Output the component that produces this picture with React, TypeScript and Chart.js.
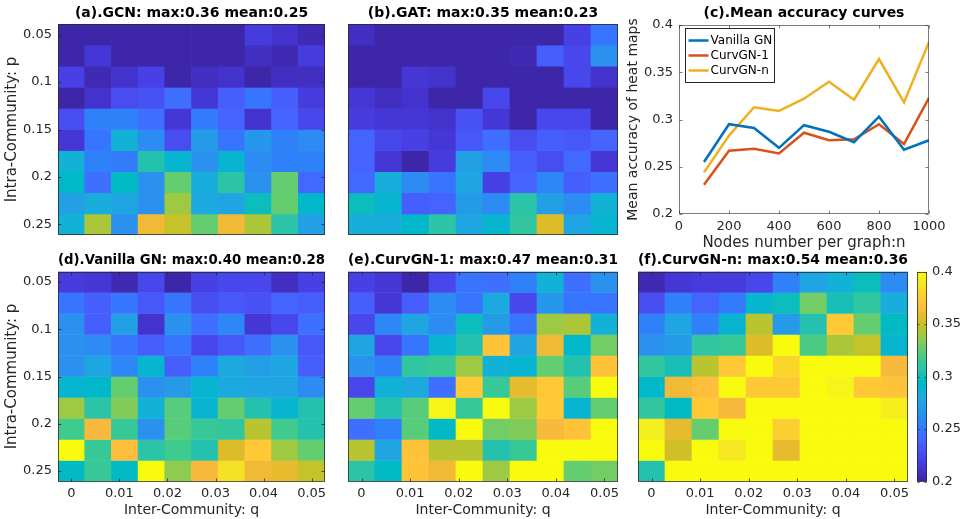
import React, { useEffect, useRef } from "react";
import { Chart, registerables } from "chart.js";

Chart.register(...registerables);

// ------------------------------------------------------------------ data
const Q_VALUES = [0, 0.005556, 0.011111, 0.016667, 0.022222, 0.027778, 0.033333, 0.038889, 0.044444, 0.05];
const P_VALUES = [0.05, 0.072222, 0.094444, 0.116667, 0.138889, 0.161111, 0.183333, 0.205556, 0.227778, 0.25];
const Q_TICKS = [0, 0.01, 0.02, 0.03, 0.04, 0.05];
const Q_TICK_LABELS = ["0", "0.01", "0.02", "0.03", "0.04", "0.05"];
const P_TICKS = [0.05, 0.1, 0.15, 0.2, 0.25];
const P_TICK_LABELS = ["0.05", "0.1", "0.15", "0.2", "0.25"];
const COLOR_LIMITS = [0.2, 0.4];
const CB_TICKS = [0.2, 0.25, 0.3, 0.35, 0.4];
const CB_TICK_LABELS = ["0.2", "0.25", "0.3", "0.35", "0.4"];

// rows: p (0.05 -> 0.25), columns: q (0 -> 0.05)
const GCN_ACC = [
  [0.203, 0.203, 0.203, 0.203, 0.203, 0.203, 0.203, 0.218, 0.210, 0.205],
  [0.203, 0.215, 0.203, 0.203, 0.203, 0.203, 0.203, 0.207, 0.204, 0.218],
  [0.220, 0.205, 0.210, 0.220, 0.203, 0.207, 0.210, 0.203, 0.208, 0.207],
  [0.203, 0.210, 0.228, 0.230, 0.245, 0.215, 0.235, 0.250, 0.235, 0.218],
  [0.228, 0.255, 0.255, 0.245, 0.215, 0.253, 0.240, 0.212, 0.238, 0.225],
  [0.213, 0.250, 0.285, 0.262, 0.228, 0.270, 0.250, 0.268, 0.255, 0.260],
  [0.287, 0.255, 0.253, 0.305, 0.288, 0.265, 0.290, 0.262, 0.255, 0.255],
  [0.292, 0.245, 0.295, 0.264, 0.325, 0.283, 0.308, 0.265, 0.325, 0.243],
  [0.272, 0.283, 0.277, 0.265, 0.340, 0.279, 0.276, 0.300, 0.325, 0.292],
  [0.285, 0.343, 0.265, 0.362, 0.350, 0.325, 0.362, 0.342, 0.308, 0.272],
];
const GAT_ACC = [
  [0.207, 0.203, 0.203, 0.203, 0.203, 0.203, 0.203, 0.203, 0.220, 0.250],
  [0.203, 0.203, 0.203, 0.203, 0.203, 0.203, 0.205, 0.235, 0.225, 0.265],
  [0.203, 0.203, 0.215, 0.210, 0.203, 0.203, 0.203, 0.203, 0.222, 0.210],
  [0.215, 0.207, 0.210, 0.203, 0.203, 0.222, 0.203, 0.203, 0.203, 0.203],
  [0.218, 0.213, 0.213, 0.212, 0.230, 0.215, 0.203, 0.225, 0.222, 0.203],
  [0.238, 0.225, 0.220, 0.215, 0.232, 0.245, 0.228, 0.235, 0.232, 0.240],
  [0.238, 0.215, 0.203, 0.218, 0.272, 0.262, 0.235, 0.228, 0.242, 0.213],
  [0.242, 0.282, 0.260, 0.248, 0.275, 0.220, 0.240, 0.258, 0.235, 0.245],
  [0.298, 0.290, 0.235, 0.240, 0.270, 0.260, 0.308, 0.272, 0.260, 0.285],
  [0.282, 0.282, 0.293, 0.308, 0.275, 0.288, 0.312, 0.355, 0.278, 0.290],
];
const VANILLA_ACC = [
  [0.218, 0.215, 0.205, 0.222, 0.202, 0.220, 0.225, 0.223, 0.208, 0.220],
  [0.248, 0.235, 0.248, 0.233, 0.250, 0.228, 0.232, 0.230, 0.240, 0.235],
  [0.265, 0.237, 0.272, 0.210, 0.263, 0.245, 0.258, 0.215, 0.225, 0.245],
  [0.265, 0.260, 0.250, 0.237, 0.248, 0.225, 0.232, 0.245, 0.265, 0.233],
  [0.265, 0.275, 0.258, 0.290, 0.235, 0.255, 0.280, 0.272, 0.275, 0.235],
  [0.290, 0.292, 0.325, 0.265, 0.270, 0.290, 0.280, 0.278, 0.275, 0.260],
  [0.338, 0.308, 0.332, 0.285, 0.322, 0.290, 0.325, 0.305, 0.290, 0.305],
  [0.318, 0.365, 0.315, 0.265, 0.322, 0.315, 0.310, 0.345, 0.318, 0.305],
  [0.400, 0.315, 0.368, 0.308, 0.318, 0.305, 0.355, 0.375, 0.340, 0.325],
  [0.295, 0.315, 0.295, 0.400, 0.335, 0.365, 0.385, 0.360, 0.358, 0.350],
];
const CURV1_ACC = [
  [0.220, 0.215, 0.203, 0.222, 0.250, 0.245, 0.255, 0.285, 0.245, 0.265],
  [0.235, 0.215, 0.235, 0.260, 0.248, 0.280, 0.222, 0.268, 0.248, 0.250],
  [0.222, 0.258, 0.275, 0.260, 0.300, 0.270, 0.250, 0.338, 0.342, 0.285],
  [0.275, 0.225, 0.248, 0.290, 0.305, 0.370, 0.278, 0.360, 0.293, 0.330],
  [0.265, 0.255, 0.312, 0.315, 0.338, 0.285, 0.290, 0.325, 0.305, 0.370],
  [0.225, 0.285, 0.280, 0.245, 0.372, 0.315, 0.358, 0.372, 0.322, 0.400],
  [0.325, 0.305, 0.322, 0.395, 0.315, 0.420, 0.338, 0.372, 0.290, 0.325],
  [0.245, 0.255, 0.322, 0.295, 0.420, 0.330, 0.332, 0.365, 0.370, 0.420],
  [0.345, 0.278, 0.370, 0.345, 0.345, 0.305, 0.315, 0.450, 0.440, 0.470],
  [0.308, 0.295, 0.370, 0.360, 0.420, 0.340, 0.430, 0.410, 0.325, 0.330],
];
const CURVN_ACC = [
  [0.205, 0.215, 0.218, 0.218, 0.223, 0.255, 0.275, 0.285, 0.300, 0.260],
  [0.228, 0.255, 0.238, 0.252, 0.290, 0.300, 0.330, 0.302, 0.312, 0.282],
  [0.255, 0.275, 0.255, 0.290, 0.345, 0.270, 0.305, 0.375, 0.325, 0.295],
  [0.265, 0.270, 0.310, 0.315, 0.355, 0.420, 0.320, 0.342, 0.348, 0.290],
  [0.310, 0.302, 0.345, 0.375, 0.420, 0.380, 0.430, 0.430, 0.440, 0.365],
  [0.292, 0.362, 0.368, 0.430, 0.372, 0.375, 0.440, 0.395, 0.372, 0.370],
  [0.310, 0.295, 0.375, 0.365, 0.440, 0.450, 0.460, 0.450, 0.440, 0.392],
  [0.392, 0.358, 0.328, 0.440, 0.460, 0.378, 0.470, 0.460, 0.490, 0.450],
  [0.420, 0.352, 0.450, 0.388, 0.460, 0.358, 0.480, 0.540, 0.500, 0.470],
  [0.305, 0.450, 0.470, 0.480, 0.490, 0.500, 0.480, 0.500, 0.470, 0.490],
];

const NODES = [100, 200, 300, 400, 500, 600, 700, 800, 900, 1000];
const N_TICKS = [0, 200, 400, 600, 800, 1000];
const N_TICK_LABELS = ["0", "200", "400", "600", "800", "1000"];
const ACC_TICKS = [0.2, 0.25, 0.3, 0.35, 0.4];
const ACC_TICK_LABELS = ["0.2", "0.25", "0.3", "0.35", "0.4"];
const VANILLA_MEAN = [0.255, 0.295, 0.291, 0.270, 0.294, 0.287, 0.276, 0.303, 0.268, 0.278];
const CURV1_MEAN = [0.231, 0.267, 0.269, 0.264, 0.286, 0.278, 0.279, 0.295, 0.274, 0.323];
const CURVN_MEAN = [0.244, 0.283, 0.313, 0.309, 0.322, 0.340, 0.321, 0.364, 0.318, 0.382];

// ------------------------------------------------------------------ style
const FONT = "DejaVu Sans";
const TXT = "#262626";
Chart.defaults.font.family = FONT;
Chart.defaults.color = TXT;

const PARULA = [
  [0.2422, 0.1504, 0.6603], [0.2504, 0.165, 0.7076], [0.2578, 0.1818, 0.7511], [0.2647, 0.1978, 0.7952],
  [0.2706, 0.2147, 0.8364], [0.2751, 0.2342, 0.871], [0.2783, 0.2559, 0.8991], [0.2803, 0.2782, 0.9221],
  [0.2813, 0.3006, 0.9414], [0.281, 0.3228, 0.9579], [0.2795, 0.3447, 0.9717], [0.276, 0.3667, 0.9829],
  [0.2699, 0.3892, 0.9906], [0.2602, 0.4123, 0.9952], [0.244, 0.4358, 0.9988], [0.2206, 0.4603, 0.9973],
  [0.1963, 0.4847, 0.9892], [0.1834, 0.5074, 0.9798], [0.1786, 0.5289, 0.9682], [0.1764, 0.5499, 0.952],
  [0.1687, 0.5703, 0.9359], [0.154, 0.5902, 0.9218], [0.146, 0.6091, 0.9079], [0.138, 0.6276, 0.8973],
  [0.1248, 0.6459, 0.8883], [0.1113, 0.6635, 0.8763], [0.0952, 0.6798, 0.8598], [0.0689, 0.6948, 0.8394],
  [0.0297, 0.7082, 0.8163], [0.0036, 0.7203, 0.7917], [0.0067, 0.7312, 0.766], [0.0433, 0.7411, 0.7394],
  [0.0964, 0.75, 0.712], [0.1408, 0.7584, 0.6842], [0.1717, 0.767, 0.6554], [0.1938, 0.7758, 0.6251],
  [0.2161, 0.7843, 0.5923], [0.247, 0.7918, 0.5567], [0.2906, 0.7973, 0.5188], [0.3406, 0.8008, 0.4789],
  [0.3909, 0.8029, 0.4354], [0.4456, 0.8024, 0.3909], [0.5044, 0.7993, 0.348], [0.5616, 0.7942, 0.3045],
  [0.6174, 0.7876, 0.2612], [0.672, 0.7793, 0.2227], [0.7242, 0.7698, 0.191], [0.7738, 0.7598, 0.1646],
  [0.8203, 0.7498, 0.1535], [0.8634, 0.7406, 0.1596], [0.9035, 0.733, 0.1774], [0.9393, 0.7288, 0.21],
  [0.9728, 0.7298, 0.2394], [0.9956, 0.7434, 0.2371], [0.997, 0.7659, 0.2199], [0.9952, 0.7893, 0.2028],
  [0.9892, 0.8136, 0.1885], [0.9814, 0.838, 0.1752], [0.9733, 0.8626, 0.1615], [0.9657, 0.8866, 0.1463],
  [0.9608, 0.9112, 0.1313], [0.9601, 0.9361, 0.1167], [0.9626, 0.9608, 0.0999], [0.9763, 0.9831, 0.0538],
];
const PARULA_CSS = PARULA.map(
  ([r, g, b]) => `rgb(${Math.round(r * 255)},${Math.round(g * 255)},${Math.round(b * 255)})`
);

function cellColor(v: number): string {
  const t = (v - COLOR_LIMITS[0]) / (COLOR_LIMITS[1] - COLOR_LIMITS[0]);
  const i = Math.max(0, Math.min(PARULA_CSS.length - 1, Math.floor(t * PARULA_CSS.length)));
  return PARULA_CSS[i];
}

const fixedTicks = (values: number[]) => (scale: any) => {
  scale.ticks = values.map((v) => ({ value: v }));
};

// MATLAB-like axes box with inward tick marks
const boxPlugin = {
  id: "mbox",
  afterDatasetsDraw(chart: any, _args: any, o: any) {
    if (!o || !o.show) return;
    const { ctx, chartArea: a } = chart;
    const L = Math.round(a.left) + 0.5;
    const R = Math.round(a.right) - 0.5;
    const T = Math.round(a.top) + 0.5;
    const B = Math.round(a.bottom) - 0.5;
    ctx.save();
    ctx.strokeStyle = o.color;
    ctx.lineWidth = 1;
    ctx.strokeRect(L, T, R - L, B - T);
    const len = o.tickLen;
    ctx.beginPath();
    if (o.xTicks) {
      const s = chart.scales[o.xId || "x"];
      for (const t of s.ticks) {
        const px = Math.round(s.getPixelForValue(t.value)) + 0.5;
        ctx.moveTo(px, B);
        ctx.lineTo(px, B - len);
        ctx.moveTo(px, T);
        ctx.lineTo(px, T + len);
      }
    }
    if (o.yTicks) {
      const s = chart.scales[o.yId || "y"];
      for (const t of s.ticks) {
        const py = Math.round(s.getPixelForValue(t.value)) + 0.5;
        ctx.moveTo(L, py);
        ctx.lineTo(L + len, py);
        ctx.moveTo(R, py);
        ctx.lineTo(R - len, py);
      }
    }
    ctx.stroke();
    ctx.restore();
  },
};

// legend drawn inside the plot area with a box, MATLAB style
const boxLegendPlugin = {
  id: "boxLegend",
  afterDraw(chart: any, _args: any, o: any) {
    if (!o || !o.show) return;
    const { ctx, chartArea: a } = chart;
    const items = chart.data.datasets;
    ctx.save();
    ctx.font = `${o.fontSize}px "${FONT}"`;
    const textW = Math.max(...items.map((d: any) => ctx.measureText(d.label).width));
    const x0 = Math.round(a.left + o.dx) + 0.5;
    const y0 = Math.round(a.top + o.dy) + 0.5;
    const w = Math.round(o.padL + o.lineLen + o.gap + textW + o.padR);
    const h = items.length * o.rowH + o.padV * 2;
    ctx.fillStyle = "#fff";
    ctx.fillRect(x0, y0, w, h);
    ctx.strokeStyle = TXT;
    ctx.lineWidth = 1;
    ctx.strokeRect(x0, y0, w, h);
    items.forEach((d: any, i: number) => {
      const cy = y0 + o.padV + o.rowH * (i + 0.5);
      ctx.strokeStyle = d.borderColor;
      ctx.lineWidth = d.borderWidth;
      ctx.beginPath();
      ctx.moveTo(x0 + o.padL, cy);
      ctx.lineTo(x0 + o.padL + o.lineLen, cy);
      ctx.stroke();
      ctx.fillStyle = "#000";
      ctx.textBaseline = "middle";
      ctx.textAlign = "left";
      ctx.fillText(d.label, x0 + o.padL + o.lineLen + o.gap, cy + 0.5);
    });
    ctx.restore();
  },
};

type Rect = { l: number; t: number; w: number; h: number };
type Area = { l: number; r: number; t: number; b: number };

const TITLE_SIZE = 14;
const TITLE_LH = TITLE_SIZE * 1.2;

function titleOpts(text: string, canvas: Rect, area: Area, titleY: number) {
  const padTop = titleY - canvas.t - TITLE_LH / 2;
  return {
    padTop,
    title: {
      display: true,
      text,
      fullSize: false,
      color: "#000",
      font: { family: FONT, size: TITLE_SIZE, weight: "bold", lineHeight: 1.2 },
      padding: { top: 0, bottom: area.t - canvas.t - padTop - TITLE_LH },
    },
  };
}

type HeatSpec = {
  title: string;
  values: number[][];
  canvas: Rect;
  area: Area;
  titleY: number;
  yLabels: boolean;
  yTitle?: string;
  xLabels: boolean;
  xTitle?: string;
};

function heatmapConfig(s: HeatSpec): any {
  const dq = Q_VALUES[1] - Q_VALUES[0];
  const dp = P_VALUES[1] - P_VALUES[0];
  const showY = s.yLabels || !!s.yTitle;
  const showX = s.xLabels || !!s.xTitle;
  const yW = showY ? s.area.l - s.canvas.l : 0;
  const xH = showX ? s.canvas.t + s.canvas.h - s.area.b : 0;
  const t = titleOpts(s.title, s.canvas, s.area, s.titleY);
  return {
    type: "bar",
    data: {
      datasets: s.values.map((row, r) => ({
        data: row.map((_v, c) => ({ x: Q_VALUES[c], y: [P_VALUES[r] - dp / 2, P_VALUES[r] + dp / 2] })),
        backgroundColor: row.map(cellColor),
        borderWidth: 0,
        grouped: false,
        barPercentage: 1,
        categoryPercentage: 1,
      })),
    },
    options: {
      responsive: false,
      animation: false,
      events: [],
      layout: {
        padding: {
          left: showY ? 0 : s.area.l - s.canvas.l,
          right: s.canvas.l + s.canvas.w - s.area.r,
          top: t.padTop,
          bottom: showX ? 0 : s.canvas.t + s.canvas.h - s.area.b,
        },
      },
      plugins: {
        legend: { display: false },
        tooltip: { enabled: false },
        title: t.title,
        mbox: { show: true, color: "rgba(38,38,38,0.75)", tickLen: 3, xTicks: s.xLabels, yTicks: s.yLabels },
      },
      scales: {
        x: {
          type: "linear",
          display: showX,
          min: Q_VALUES[0] - dq / 2,
          max: Q_VALUES[Q_VALUES.length - 1] + dq / 2,
          offset: false,
          grid: { display: false, drawTicks: false },
          border: { display: false },
          afterBuildTicks: fixedTicks(Q_TICKS),
          afterFit: (sc: any) => {
            sc.height = xH;
          },
          ticks: {
            display: s.xLabels,
            autoSkip: false,
            maxRotation: 0,
            padding: 4,
            color: TXT,
            font: { family: FONT, size: 13 },
            callback: (_v: any, i: number) => Q_TICK_LABELS[i],
          },
          title: {
            display: !!s.xTitle,
            text: s.xTitle || "",
            color: TXT,
            font: { family: FONT, size: 14 },
            padding: { top: 0, bottom: 0 },
          },
        },
        y: {
          type: "linear",
          display: showY,
          reverse: true,
          min: P_VALUES[0] - dp / 2,
          max: P_VALUES[P_VALUES.length - 1] + dp / 2,
          grid: { display: false, drawTicks: false },
          border: { display: false },
          afterBuildTicks: fixedTicks(P_TICKS),
          afterFit: (sc: any) => {
            sc.width = yW;
          },
          ticks: {
            display: s.yLabels,
            autoSkip: false,
            padding: 6,
            color: TXT,
            font: { family: FONT, size: 13 },
            callback: (_v: any, i: number) => P_TICK_LABELS[i],
          },
          title: {
            display: !!s.yTitle,
            text: s.yTitle || "",
            color: TXT,
            font: { family: FONT, size: 15 },
            padding: { top: 3, bottom: 0 },
          },
        },
      },
    },
    plugins: [boxPlugin],
  };
}

function lineConfig(canvas: Rect, area: Area): any {
  const t = titleOpts("(c).Mean accuracy curves", canvas, area, 13.5);
  const series = [
    { label: "Vanilla GN", values: VANILLA_MEAN, color: "rgb(0,114,189)" },
    { label: "CurvGN-1", values: CURV1_MEAN, color: "rgb(217,83,25)" },
    { label: "CurvGN-n", values: CURVN_MEAN, color: "rgb(237,177,32)" },
  ];
  return {
    type: "line",
    data: {
      datasets: series.map((s) => ({
        label: s.label,
        data: NODES.map((n, i) => ({ x: n, y: s.values[i] })),
        borderColor: s.color,
        backgroundColor: s.color,
        borderWidth: 2.5,
        pointRadius: 0,
        tension: 0,
        fill: false,
      })),
    },
    options: {
      responsive: false,
      animation: false,
      events: [],
      layout: { padding: { left: 0, right: canvas.l + canvas.w - area.r, top: t.padTop, bottom: 0 } },
      plugins: {
        legend: { display: false },
        tooltip: { enabled: false },
        title: t.title,
        mbox: { show: true, color: "rgba(38,38,38,0.6)", tickLen: 3, xTicks: true, yTicks: true },
        boxLegend: { show: true, dx: 6, dy: 2.5, fontSize: 12, rowH: 15, padV: 4.5, padL: 3, lineLen: 20, gap: 2, padR: 2 },
      },
      scales: {
        x: {
          type: "linear",
          min: 0,
          max: 1000,
          grid: { display: false, drawTicks: false },
          border: { display: false },
          afterBuildTicks: fixedTicks(N_TICKS),
          afterFit: (sc: any) => {
            sc.height = canvas.t + canvas.h - area.b;
          },
          ticks: {
            autoSkip: false,
            maxRotation: 0,
            padding: 5,
            color: TXT,
            font: { family: FONT, size: 13 },
            callback: (_v: any, i: number) => N_TICK_LABELS[i],
          },
          title: {
            display: true,
            text: "Nodes number per graph:n",
            color: TXT,
            font: { family: FONT, size: 15 },
            padding: { top: 0, bottom: 0.5 },
          },
        },
        y: {
          type: "linear",
          min: 0.2,
          max: 0.4,
          grid: { display: false, drawTicks: false },
          border: { display: false },
          afterBuildTicks: fixedTicks(ACC_TICKS),
          afterFit: (sc: any) => {
            sc.width = area.l - canvas.l;
          },
          ticks: {
            autoSkip: false,
            padding: 6,
            color: TXT,
            font: { family: FONT, size: 13 },
            callback: (_v: any, i: number) => ACC_TICK_LABELS[i],
          },
          title: {
            display: true,
            text: "Mean accuracy of heat maps",
            color: TXT,
            font: { family: FONT, size: 14 },
            padding: { top: 0, bottom: 0 },
          },
        },
      },
    },
    plugins: [boxPlugin, boxLegendPlugin],
  };
}

function colorbarConfig(canvas: Rect, area: Area): any {
  return {
    type: "bar",
    data: {
      labels: [""],
      datasets: [
        {
          data: [[COLOR_LIMITS[0], COLOR_LIMITS[1]]],
          backgroundColor: (c: any) => {
            const a = c.chart.chartArea;
            if (!a) return PARULA_CSS[0];
            const g = c.chart.ctx.createLinearGradient(0, a.bottom, 0, a.top);
            const n = PARULA_CSS.length;
            PARULA_CSS.forEach((col, i) => {
              g.addColorStop(i / n, col);
              g.addColorStop((i + 1) / n, col);
            });
            return g;
          },
          borderWidth: 0,
          barPercentage: 1,
          categoryPercentage: 1,
        },
      ],
    },
    options: {
      responsive: false,
      animation: false,
      events: [],
      layout: {
        padding: {
          left: area.l - canvas.l,
          right: 0,
          top: area.t - canvas.t,
          bottom: canvas.t + canvas.h - area.b,
        },
      },
      plugins: {
        legend: { display: false },
        tooltip: { enabled: false },
        mbox: { show: true, color: "rgba(38,38,38,0.75)", tickLen: 2, xTicks: false, yTicks: true },
      },
      scales: {
        x: { display: false },
        y: {
          position: "right",
          min: COLOR_LIMITS[0],
          max: COLOR_LIMITS[1],
          grid: { display: false, drawTicks: false },
          border: { display: false },
          afterBuildTicks: fixedTicks(CB_TICKS),
          afterFit: (sc: any) => {
            sc.width = canvas.l + canvas.w - area.r;
          },
          ticks: {
            autoSkip: false,
            padding: 5,
            color: TXT,
            font: { family: FONT, size: 13 },
            callback: (_v: any, i: number) => CB_TICK_LABELS[i],
          },
        },
      },
    },
    plugins: [boxPlugin],
  };
}

function ChartBox({ rect, make }: { rect: Rect; make: () => any }) {
  const ref = useRef<HTMLCanvasElement | null>(null);
  useEffect(() => {
    const chart = new Chart(ref.current as HTMLCanvasElement, make());
    return () => chart.destroy();
  }, []);
  return (
    <canvas
      ref={ref}
      width={rect.w}
      height={rect.h}
      style={{ position: "absolute", left: rect.l, top: rect.t, width: rect.w, height: rect.h }}
    />
  );
}

const A_CANVAS = { l: 0, t: 0, w: 335, h: 250 };
const A_AREA = { l: 58, r: 325, t: 24, b: 235 };
const B_CANVAS = { l: 335, t: 0, w: 295, h: 250 };
const B_AREA = { l: 348, r: 618, t: 24, b: 235 };
const C_CANVAS = { l: 625, t: 0, w: 336, h: 253 };
const C_AREA = { l: 679, r: 929, t: 25, b: 214 };
const D_CANVAS = { l: 0, t: 250, w: 335, h: 269 };
const D_AREA = { l: 58, r: 325, t: 271.5, b: 481.5 };
const E_CANVAS = { l: 335, t: 250, w: 295, h: 269 };
const E_AREA = { l: 348, r: 618, t: 271.5, b: 481.5 };
const F_CANVAS = { l: 625, t: 250, w: 290, h: 269 };
const F_AREA = { l: 638, r: 908, t: 271.5, b: 481.5 };
const CB_CANVAS = { l: 912, t: 250, w: 49, h: 269 };
const CB_AREA = { l: 917, r: 927, t: 271.5, b: 481.5 };

export default function App() {
  return (
    <div
      style={{
        position: "absolute",
        left: 0,
        top: 0,
        width: 961,
        height: 519,
        background: "#fff",
        overflow: "hidden",
      }}
    >
      <ChartBox
        rect={A_CANVAS}
        make={() =>
          heatmapConfig({
            title: "(a).GCN: max:0.36 mean:0.25",
            values: GCN_ACC,
            canvas: A_CANVAS,
            area: A_AREA,
            titleY: 13.5,
            yLabels: true,
            yTitle: "Intra-Community: p",
            xLabels: false,
          })
        }
      />
      <ChartBox
        rect={B_CANVAS}
        make={() =>
          heatmapConfig({
            title: "(b).GAT: max:0.35 mean:0.23",
            values: GAT_ACC,
            canvas: B_CANVAS,
            area: B_AREA,
            titleY: 13.5,
            yLabels: false,
            xLabels: false,
          })
        }
      />
      <ChartBox rect={C_CANVAS} make={() => lineConfig(C_CANVAS, C_AREA)} />
      <ChartBox
        rect={D_CANVAS}
        make={() =>
          heatmapConfig({
            title: "(d).Vanilla GN: max:0.40 mean:0.28",
            values: VANILLA_ACC,
            canvas: D_CANVAS,
            area: D_AREA,
            titleY: 260.5,
            yLabels: true,
            yTitle: "Intra-Community: p",
            xLabels: true,
            xTitle: "Inter-Community: q",
          })
        }
      />
      <ChartBox
        rect={E_CANVAS}
        make={() =>
          heatmapConfig({
            title: "(e).CurvGN-1: max:0.47 mean:0.31",
            values: CURV1_ACC,
            canvas: E_CANVAS,
            area: E_AREA,
            titleY: 260.5,
            yLabels: false,
            xLabels: true,
            xTitle: "Inter-Community: q",
          })
        }
      />
      <ChartBox
        rect={F_CANVAS}
        make={() =>
          heatmapConfig({
            title: "(f).CurvGN-n: max:0.54 mean:0.36",
            values: CURVN_ACC,
            canvas: F_CANVAS,
            area: F_AREA,
            titleY: 260.5,
            yLabels: false,
            xLabels: true,
            xTitle: "Inter-Community: q",
          })
        }
      />
      <ChartBox rect={CB_CANVAS} make={() => colorbarConfig(CB_CANVAS, CB_AREA)} />
    </div>
  );
}
